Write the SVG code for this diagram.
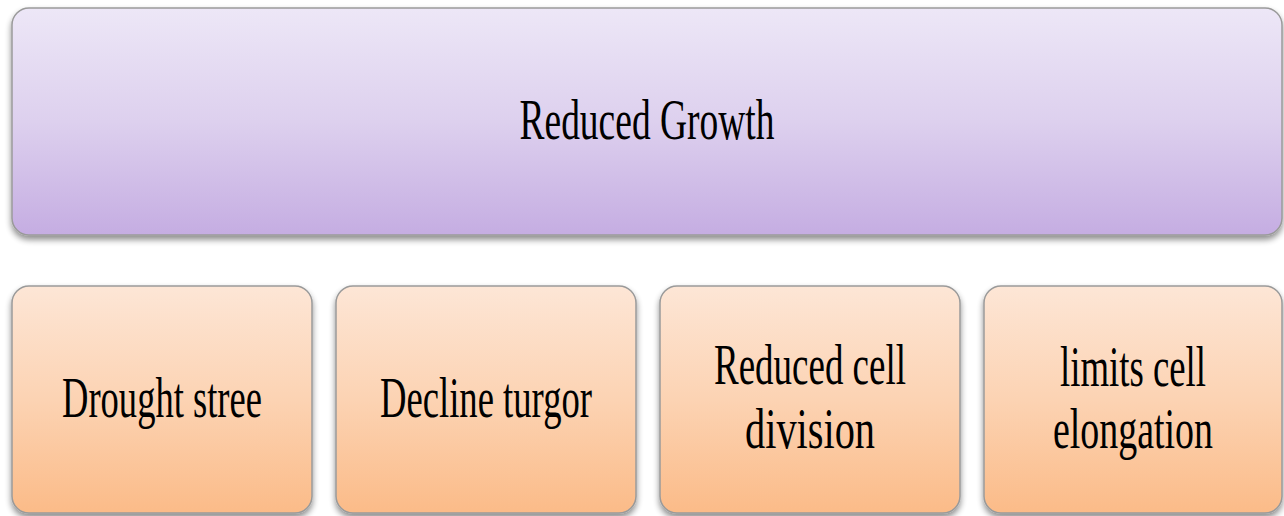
<svg xmlns="http://www.w3.org/2000/svg" width="1284" height="516" viewBox="0 0 1284 516">
<defs>
<linearGradient id="gp" x1="0" y1="0" x2="0" y2="1">
<stop offset="0" stop-color="#ede7f7"/>
<stop offset="0.5" stop-color="#ddd0ee"/>
<stop offset="1" stop-color="#c5ade2"/>
</linearGradient>
<linearGradient id="go" x1="0" y1="0" x2="0" y2="1">
<stop offset="0" stop-color="#fde6d6"/>
<stop offset="0.5" stop-color="#fcd3b3"/>
<stop offset="1" stop-color="#fbbb88"/>
</linearGradient>
<filter id="sh" x="-5%" y="-5%" width="110%" height="125%">
<feGaussianBlur in="SourceAlpha" stdDeviation="3"/>
<feOffset dx="0" dy="4"/>
<feComponentTransfer><feFuncA type="linear" slope="0.45"/></feComponentTransfer>
<feMerge><feMergeNode/><feMergeNode in="SourceGraphic"/></feMerge>
</filter>
</defs>
<style>
.box{stroke:#9a9a9a;stroke-width:1.5;filter:url(#sh)}
.t{font-family:'Liberation Serif','DejaVu Serif',serif;font-size:56px;fill:#000;text-anchor:middle}
</style>
<g id="connectors"></g>
<g id="reduced-growth">
<rect class="box" x="12" y="8" width="1270" height="227" rx="17" fill="url(#gp)"/>
<text class="t" x="647" y="139" textLength="255" lengthAdjust="spacingAndGlyphs">Reduced Growth</text>
</g>
<g id="drought-stree">
<rect class="box" x="12" y="286" width="300" height="227" rx="17" fill="url(#go)"/>
<text class="t" x="162" y="417" textLength="200" lengthAdjust="spacingAndGlyphs">Drought stree</text>
</g>
<g id="decline-turgor">
<rect class="box" x="336" y="286" width="300" height="227" rx="17" fill="url(#go)"/>
<text class="t" x="486" y="417" textLength="212" lengthAdjust="spacingAndGlyphs">Decline turgor</text>
</g>
<g id="reduced-cell-division">
<rect class="box" x="660" y="286" width="300" height="227" rx="17" fill="url(#go)"/>
<text class="t" x="810" y="384" textLength="192" lengthAdjust="spacingAndGlyphs">Reduced cell</text>
<text class="t" x="810" y="448" textLength="130" lengthAdjust="spacingAndGlyphs">division</text>
</g>
<g id="limits-cell-elongation">
<rect class="box" x="984" y="286" width="298" height="227" rx="17" fill="url(#go)"/>
<text class="t" x="1133" y="386" textLength="146" lengthAdjust="spacingAndGlyphs">limits cell</text>
<text class="t" x="1133" y="448" textLength="160" lengthAdjust="spacingAndGlyphs">elongation</text>
</g>
</svg>
